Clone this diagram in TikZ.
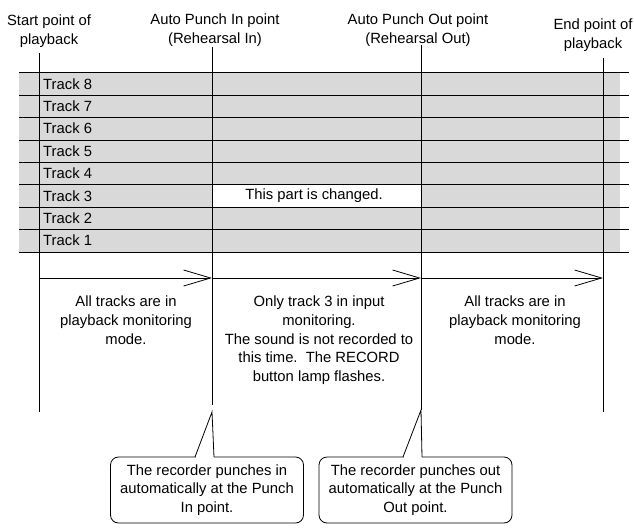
\documentclass[tikz,border=0pt]{standalone}
\usepackage{fontspec}
\setmainfont{Liberation Sans}
\usetikzlibrary{arrows.meta}
\tikzset{
  rule/.style={draw=black,line width=0.8pt},
  span/.style={rule,-{Straight Barb[length=27pt,width=16pt]}},
}

\begin{document}
\begin{tikzpicture}[x=1pt,y=-1pt,font=\fontsize{14.8}{18.6}\selectfont,
   lbl/.style={align=center,inner sep=0pt},
   trk/.style={anchor=west,inner sep=0pt},
   note/.style={align=center,anchor=north,inner sep=0pt},
   bubble/.style={rule,rounded corners=8pt,align=center,inner sep=0pt,fill=white,
     minimum width=193pt,minimum height=66pt}]
  \useasboundingbox (0,0) rectangle (634,527);
  \fill[black!15] (19,72.7) rectangle (620,251.9);
  \fill[white] (212,184.7) rectangle (421,207.1);
  \foreach \k in {0,...,8}
    \draw[rule] (19,{72.7+22.4*\k}) -- (629,{72.7+22.4*\k});
  \foreach \t in {1,...,8}
    \node[trk] (t\t) at (43,{72.7+22.4*(8.5-\t)}) {Track \t};
  \node[inner sep=0pt] (chg) at (314,195.9) {This part is changed.};
  \node[lbl] (startlbl) at (49,31) {Start point of\\playback};
  \node[lbl] (inlbl) at (215,30) {Auto Punch In point\\(Rehearsal In)};
  \node[lbl] (outlbl) at (418,30) {Auto Punch Out point\\(Rehearsal Out)};
  \node[lbl] (endlbl) at (593,35) {End point of\\playback};
  \coordinate (st) at (39,53);   \coordinate (sb) at (39,412);
  \coordinate (it) at (212,47);  \coordinate (ib) at (212,405);
  \coordinate (ot) at (421,45);  \coordinate (ob) at (421,410);
  \coordinate (et) at (603,58);  \coordinate (eb) at (603,412);
  \draw[rule] (st) -- (sb);
  \draw[rule] (it) -- (ib);
  \draw[rule] (ot) -- (ob);
  \draw[rule] (et) -- (eb);
  \draw[span] (39,278) -- (212,278);
  \draw[span] (212,278) -- (421,278);
  \draw[span] (421,278) -- (603,278);
  \node[note] (m1) at (126,296) {All tracks are in\\playback monitoring\\mode.};
  \node[note] (m2) at (319,296) {Only track 3 in input\\monitoring.\\The sound is not recorded to\\this time.\ \ The RECORD\\button lamp flashes.};
  \node[note] (m3) at (515,296) {All tracks are in\\playback monitoring\\mode.};
  \node[bubble] (pin) at (207,490)
    {The recorder punches in\\automatically at the Punch\\In point.};
  \node[bubble] (pout) at (415.5,490)
    {The recorder punches out\\automatically at the Punch\\Out point.};
  \coordinate (intip) at (212,412);
  \coordinate (outtip) at (421,410);
  \fill[white] (195.5,455.5) rectangle (213.5,458.5);
  \fill[white] (403.5,455.5) rectangle (421.5,458.5);
  \draw[rule] (195,457) -- (intip) -- (214,457);
  \draw[rule] (403,457) -- (outtip) -- (422,457);
\end{tikzpicture}
\end{document}
